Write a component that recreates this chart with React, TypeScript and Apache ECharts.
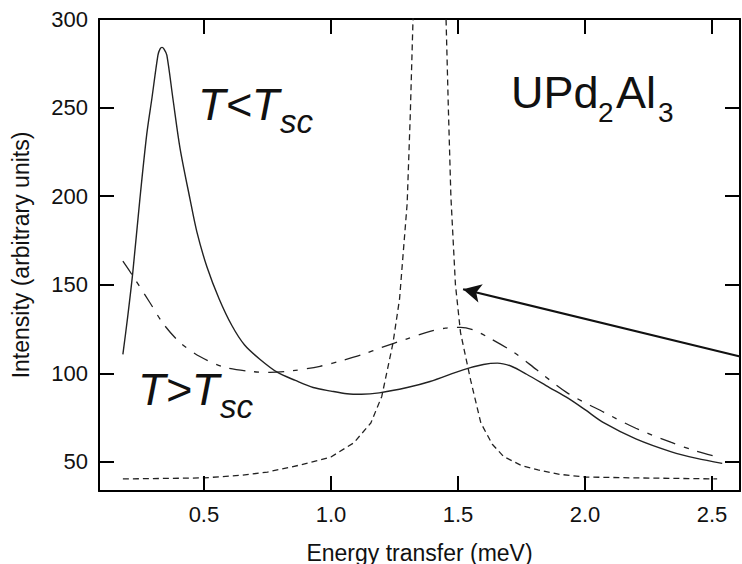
import React, { useEffect, useRef } from "react";
import * as echarts from "echarts";

// Axis ranges and labelled tick positions
const X_MIN = 0.087;
const X_MAX = 2.61;
const Y_MIN = 33.6;
const Y_MAX = 300;
const xTicks = [0.5, 1.0, 1.5, 2.0, 2.5];
const yTicks = [50, 100, 150, 200, 250, 300];

// Spectrum below the superconducting transition (solid)
const belowTcEnergy = [
  0.181, 0.2, 0.22, 0.248, 0.275, 0.295, 0.319, 0.327, 0.335, 0.343, 0.354, 0.378, 0.406, 0.445,
  0.472, 0.512, 0.56, 0.61, 0.66, 0.72, 0.79, 0.86, 0.93, 1.0, 1.063, 1.12, 1.19, 1.3, 1.39, 1.52,
  1.6, 1.655, 1.71, 1.77, 1.86, 1.933, 2.0, 2.075, 2.2, 2.34, 2.44, 2.54,
];
const belowTcIntensity = [
  110.7, 132, 157, 198.5, 235, 255, 279.6, 283, 284, 283, 279.6, 255, 227, 198.5,
  180, 160, 142, 127, 116, 108, 100.5, 96, 92, 90, 88.5, 88.2, 89, 92, 95.4, 102,
  105, 105.8, 104, 99.5, 92, 86, 79.5, 72, 63, 55.7, 52, 49.2,
];

// Spectrum above the transition (dash-dot)
const aboveTcEnergy = [
  0.181, 0.22, 0.287, 0.34, 0.405, 0.484, 0.58, 0.69, 0.76, 0.85, 0.957, 1.05, 1.126, 1.2, 1.3,
  1.39, 1.45, 1.51, 1.56, 1.61, 1.72, 1.81, 1.93, 2.075, 2.2, 2.34, 2.44, 2.535,
];
const aboveTcIntensity = [
  163.4, 155, 140, 128, 117.5, 109.5, 103.5, 101, 100.5, 101.5, 104, 107.5, 110.7, 114.6, 119.5,
  123.7, 125.5, 126, 124.5, 121, 111.8, 102, 89, 78, 69, 61, 56, 52.3,
];

// Sharp resonance mode (short dashes)
const modeEnergy = [
  0.181, 0.35, 0.5, 0.65, 0.75, 0.88, 1.0, 1.09, 1.157, 1.2, 1.244, 1.27, 1.3, 1.312, 1.323,
  1.388, 1.453, 1.462, 1.472, 1.49, 1.51, 1.55, 1.59, 1.635, 1.68, 1.75, 1.815, 1.9, 2.0, 2.2, 2.52,
];
const modeIntensity = [
  40.4, 40.7, 41, 42.5, 44.3, 48.3, 52.8, 60.8, 72, 87, 117, 142, 196, 245, 300,
  1400, 300, 250, 200, 150, 123, 96, 72, 60, 53, 48, 45.5, 43, 41.5, 41, 40.4,
];

// Arrow pointing at the resonance
const arrowFrom = [2.61, 109.5];
const arrowTo = [1.52, 147.5];

const FONT = "'Liberation Sans', Arial, Helvetica, sans-serif";
const INK = "#000";
const CURVE = "#222";

// Plot box in pixels and the inward tick length expressed in axis units
const GRID = { left: 99, right: 2, top: 19, bottom: 73 };
const PLOT_W = 742 - GRID.left - GRID.right;
const PLOT_H = 564 - GRID.top - GRID.bottom;
const TICK_LEN = 15;
const TICK_DX = ((X_MAX - X_MIN) * TICK_LEN) / PLOT_W;
const TICK_DY = ((Y_MAX - Y_MIN) * TICK_LEN) / PLOT_H;

const zip = (xs: number[], ys: number[]) => xs.map((x, i) => [x, ys[i]]);

// Only the round tick values get a label; the axis end points stay unlabelled
const isTick = (list: number[], v: number) => list.some((t) => Math.abs(t - v) < 1e-6);

// Tick segments on all four sides of the frame, in data coordinates
const frameTicks = [
  ...xTicks.map((t) => [{ coord: [t, Y_MIN] }, { coord: [t, Y_MIN + TICK_DY] }]),
  ...xTicks.map((t) => [{ coord: [t, Y_MAX] }, { coord: [t, Y_MAX - TICK_DY] }]),
  ...yTicks.map((t) => [{ coord: [X_MIN, t] }, { coord: [X_MIN + TICK_DX, t] }]),
  ...yTicks.map((t) => [{ coord: [X_MAX, t] }, { coord: [X_MAX - TICK_DX, t] }]),
];

const textItem = (text: string, x: number, y: number, fontSize: number, italic: boolean) => ({
  type: "text",
  x,
  y,
  silent: true,
  style: {
    text,
    fontSize,
    fontStyle: italic ? "italic" : "normal",
    fontFamily: FONT,
    fill: "#111",
    align: "left",
    verticalAlign: "middle",
  },
});

const annotations = [
  textItem("T<T", 198, 104, 45, true),
  textItem("sc", 280, 121.5, 33, true),
  textItem("T>T", 138, 389.5, 45, true),
  textItem("sc", 220, 406.5, 33, true),
  textItem("UPd", 511, 92.5, 45, false),
  textItem("2", 598, 112.3, 28, false),
  textItem("Al", 616, 92.5, 45, false),
  textItem("3", 658, 112.3, 28, false),
];

const axisLineStyle = () => ({ show: true, onZero: false, lineStyle: { color: INK, width: 2 } });

function buildOption(): any {
  return {
    animation: false,
    grid: { ...GRID, containLabel: false, outerBoundsMode: "none" },
    xAxis: [
      {
        type: "value",
        min: X_MIN,
        max: X_MAX,
        splitNumber: 5,
        axisLine: axisLineStyle(),
        axisTick: { show: false },
        splitLine: { show: false },
        name: "Energy transfer (meV)",
        nameLocation: "middle",
        nameGap: 50,
        nameTextStyle: { fontSize: 23, fontFamily: FONT, color: "#111" },
        axisLabel: {
          formatter: (v: number) => (isTick(xTicks, v) ? v.toFixed(1) : ""),
          fontSize: 22,
          fontFamily: FONT,
          color: "#111",
          margin: 12,
        },
      },
      {
        type: "value",
        position: "top",
        min: X_MIN,
        max: X_MAX,
        axisLine: axisLineStyle(),
        axisTick: { show: false },
        splitLine: { show: false },
        axisLabel: { show: false },
      },
    ],
    yAxis: [
      {
        type: "value",
        min: Y_MIN,
        max: Y_MAX,
        splitNumber: 5,
        axisLine: axisLineStyle(),
        axisTick: { show: false },
        splitLine: { show: false },
        name: "Intensity (arbitrary units)",
        nameLocation: "middle",
        nameGap: 67,
        nameTextStyle: { fontSize: 23, fontFamily: FONT, color: "#111" },
        axisLabel: {
          formatter: (v: number) => (isTick(yTicks, v) ? String(Math.round(v)) : ""),
          fontSize: 22,
          fontFamily: FONT,
          color: "#111",
          margin: 11,
        },
      },
      {
        type: "value",
        position: "right",
        min: Y_MIN,
        max: Y_MAX,
        axisLine: axisLineStyle(),
        axisTick: { show: false },
        splitLine: { show: false },
        axisLabel: { show: false },
      },
    ],
    series: [
      {
        name: "T<Tsc",
        type: "line",
        data: zip(belowTcEnergy, belowTcIntensity),
        showSymbol: false,
        smooth: 0.3,
        lineStyle: { color: CURVE, width: 1.4, type: "solid" },
        silent: true,
        markLine: {
          silent: true,
          animation: false,
          symbol: ["none", "none"],
          label: { show: false },
          emphasis: { disabled: true },
          lineStyle: { color: INK, width: 2, type: "solid" },
          data: frameTicks,
        },
      },
      {
        name: "T>Tsc",
        type: "line",
        data: zip(aboveTcEnergy, aboveTcIntensity),
        showSymbol: false,
        smooth: 0.3,
        lineStyle: { color: CURVE, width: 1.3, type: [16, 9, 5, 9] },
        silent: true,
      },
      {
        name: "mode",
        type: "line",
        data: zip(modeEnergy, modeIntensity),
        showSymbol: false,
        smooth: false,
        lineStyle: { color: CURVE, width: 1.3, type: [6, 4] },
        silent: true,
        markLine: {
          silent: true,
          animation: false,
          symbol: ["none", "arrow"],
          symbolSize: [14, 18],
          label: { show: false },
          emphasis: { disabled: true },
          lineStyle: { color: "#111", width: 2, type: "solid" },
          data: [[{ coord: arrowFrom }, { coord: arrowTo }]],
        },
      },
    ],
    graphic: annotations,
  };
}

export default function App() {
  const ref = useRef<HTMLDivElement>(null);
  useEffect(() => {
    if (!ref.current) return;
    const chart = echarts.init(ref.current, undefined, { renderer: "svg" });
    chart.setOption(buildOption());
    return () => chart.dispose();
  }, []);
  return (
    <div
      ref={ref}
      style={{ position: "fixed", left: 0, top: 0, width: 742, height: 564, background: "#fff" }}
    />
  );
}
